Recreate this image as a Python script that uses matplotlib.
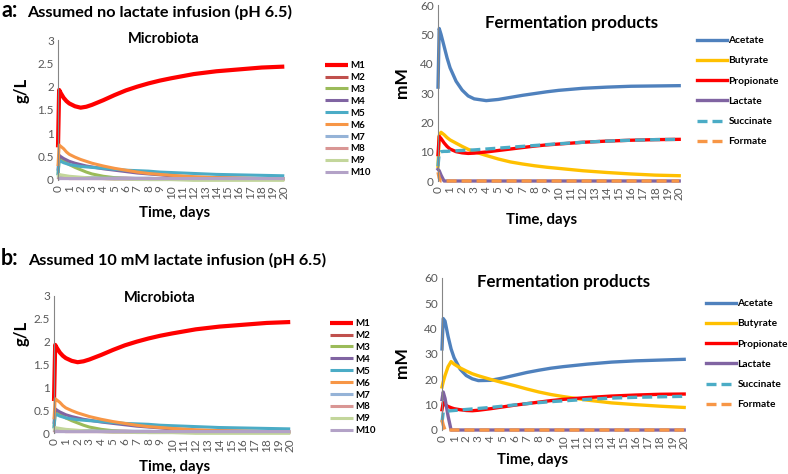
import matplotlib
matplotlib.use("Agg")
import matplotlib.pyplot as plt

plt.rcParams['font.family'] = ['Lato', 'DejaVu Sans']

W, H = 788, 474

# time points (days)
days = [0, 0.1, 0.25, 0.5, 0.75, 1, 1.5, 2, 2.5, 3, 4, 5, 6, 7, 8, 9, 10, 12, 14, 16, 18, 20]
day_ticks = list(range(0, 21))

# microbiota, g/L (panel a and b look the same)
m1 = [0.7, 1.93, 1.86, 1.76, 1.69, 1.64, 1.58, 1.55, 1.57, 1.61, 1.71, 1.82, 1.92, 2.0, 2.07, 2.13, 2.18, 2.27, 2.33, 2.37, 2.41, 2.43]
m2 = [0.02, 0.05, 0.05, 0.05, 0.05, 0.05, 0.05, 0.05, 0.05, 0.04, 0.04, 0.04, 0.04, 0.03, 0.03, 0.03, 0.03, 0.03, 0.03, 0.02, 0.02, 0.02]
m3 = [0.1, 0.48, 0.45, 0.41, 0.37, 0.33, 0.27, 0.22, 0.17, 0.13, 0.08, 0.05, 0.03, 0.02, 0.01, 0.01, 0.01, 0.0, 0.0, 0.0, 0.0, 0.0]
m4 = [0.2, 0.53, 0.5, 0.46, 0.43, 0.4, 0.36, 0.33, 0.3, 0.28, 0.24, 0.21, 0.18, 0.15, 0.13, 0.11, 0.09, 0.06, 0.05, 0.04, 0.03, 0.03]
m5 = [0.1, 0.42, 0.4, 0.37, 0.35, 0.33, 0.31, 0.29, 0.28, 0.27, 0.25, 0.23, 0.21, 0.2, 0.19, 0.17, 0.16, 0.14, 0.12, 0.11, 0.1, 0.09]
m6 = [0.3, 0.75, 0.72, 0.67, 0.6, 0.55, 0.49, 0.44, 0.4, 0.36, 0.3, 0.25, 0.21, 0.17, 0.14, 0.12, 0.1, 0.07, 0.05, 0.04, 0.03, 0.03]
m7 = [0.02, 0.06, 0.06, 0.06, 0.05, 0.05, 0.05, 0.05, 0.05, 0.05, 0.04, 0.04, 0.04, 0.04, 0.04, 0.03, 0.03, 0.03, 0.03, 0.03, 0.03, 0.03]
m8 = [0.01, 0.04, 0.04, 0.04, 0.04, 0.03, 0.03, 0.03, 0.03, 0.03, 0.03, 0.02, 0.02, 0.02, 0.02, 0.02, 0.02, 0.02, 0.02, 0.02, 0.02, 0.02]
m9 = [0.05, 0.12, 0.11, 0.1, 0.09, 0.08, 0.07, 0.06, 0.05, 0.04, 0.03, 0.02, 0.02, 0.01, 0.01, 0.01, 0.01, 0.01, 0.01, 0.01, 0.01, 0.01]
m10 = [0.02, 0.03, 0.03, 0.03, 0.03, 0.03, 0.03, 0.03, 0.03, 0.03, 0.03, 0.03, 0.03, 0.03, 0.03, 0.03, 0.03, 0.03, 0.03, 0.03, 0.03, 0.03]
microbes = ['M1', 'M2', 'M3', 'M4', 'M5', 'M6', 'M7', 'M8', 'M9', 'M10']
microbe_colors = ['#FF0000', '#C0504D', '#9BBB59', '#8064A2', '#4BACC6',
                  '#F79646', '#95B3D7', '#D99694', '#C3D69B', '#B3A2C7']

# fermentation products, mM - a: no lactate infusion
acetate_a = [32, 52, 50, 46, 42, 38.6, 34, 31, 29, 28, 27.4, 27.8, 28.5, 29.2, 29.8, 30.4, 30.9, 31.6, 32.0, 32.3, 32.4, 32.5]
butyrate_a = [5, 15.5, 16.6, 15.8, 14.8, 14.0, 12.9, 11.8, 10.8, 10.0, 8.7, 7.5, 6.5, 5.8, 5.2, 4.7, 4.3, 3.5, 2.9, 2.4, 2.0, 1.8]
propionate_a = [9, 15.2, 14.5, 13.0, 11.8, 10.9, 10.0, 9.6, 9.4, 9.5, 9.9, 10.4, 10.9, 11.4, 11.9, 12.3, 12.6, 13.2, 13.6, 13.9, 14.1, 14.2]
lactate_a = [4, 3.5, 2.0, 0, 0, 0, 0, 0, 0, 0, 0, 0, 0, 0, 0, 0, 0, 0, 0, 0, 0, 0]
succinate_a = [5, 9.5, 10.0, 10.1, 10.1, 10.2, 10.3, 10.4, 10.5, 10.6, 10.9, 11.2, 11.5, 11.8, 12.1, 12.4, 12.7, 13.2, 13.6, 13.9, 14.1, 14.2]
formate_a = [3, 1.0, 0, 0, 0, 0, 0, 0, 0, 0, 0, 0, 0, 0, 0, 0, 0, 0, 0, 0, 0, 0]

# b: 10 mM lactate infusion
acetate_b = [32, 44, 43, 37, 32, 28.5, 24, 21.5, 20.2, 19.5, 19.6, 20.5, 21.6, 22.7, 23.6, 24.4, 25.0, 26.0, 26.8, 27.3, 27.6, 27.9]
butyrate_b = [17, 19, 21.5, 25, 27, 26, 24.5, 23.3, 22.2, 21.4, 20, 18.7, 17.5, 16.2, 15.0, 14.0, 13.2, 11.8, 10.7, 10.0, 9.4, 8.9]
propionate_b = [8, 10.8, 10, 9.3, 8.8, 8.4, 8.0, 7.7, 7.6, 7.8, 8.4, 9.1, 9.8, 10.4, 11.0, 11.6, 12.1, 12.8, 13.4, 13.8, 14.1, 14.2]
lactate_b = [12, 15, 12.5, 5.5, 0, 0, 0, 0, 0, 0, 0, 0, 0, 0, 0, 0, 0, 0, 0, 0, 0, 0]
succinate_b = [3, 7, 7.4, 7.5, 7.6, 7.7, 7.9, 8.1, 8.3, 8.5, 8.9, 9.4, 9.9, 10.4, 10.8, 11.2, 11.5, 12.1, 12.6, 12.9, 13.1, 13.3]
formate_b = [4, 2, 0, 0, 0, 0, 0, 0, 0, 0, 0, 0, 0, 0, 0, 0, 0, 0, 0, 0, 0, 0]
products = ['Acetate', 'Butyrate', 'Propionate', 'Lactate', 'Succinate', 'Formate']
product_colors = ['#4F81BD', '#FFC000', '#FF0000', '#8064A2', '#4BACC6', '#F79646']
product_styles = ['-', '-', '-', '-', (0, (3, 1.5)), (0, (3, 1.5))]

g_ticks = [0, 0.5, 1, 1.5, 2, 2.5, 3]
g_labels = ['0', '0.5', '1', '1.5', '2', '2.5', '3']
mm_ticks = [0, 10, 20, 30, 40, 50, 60]

GREY = '#595959'

fig = plt.figure(figsize=(W / 100, H / 100), dpi=100)


def px(x, y):
    return x / W, 1 - y / H


def make_ax(l, t, r, b):
    ax = fig.add_axes([l / W, 1 - b / H, (r - l) / W, (b - t) / H])
    for s in ['top', 'right', 'bottom']:
        ax.spines[s].set_visible(False)
    ax.spines['left'].set_color('#868686')
    ax.spines['left'].set_linewidth(0.8)
    ax.tick_params(length=0, labelsize=8.5, labelcolor=GREY, pad=3)
    ax.set_xlim(0, 20.15)
    ax.set_xticks(day_ticks)
    ax.set_xticklabels([str(d) for d in day_ticks], rotation=90)
    ax.tick_params(axis='x', pad=4)
    return ax


def microbiota_panel(ax, series, legend_at, title_at, ylab_at, xlab_at):
    for i, ys in enumerate(series):
        ax.plot(days, ys, color=microbe_colors[i], lw=3.0 if i == 0 else 2.2,
                label=microbes[i], clip_on=False, solid_capstyle='butt')
    ax.set_ylim(0, 3)
    ax.set_yticks(g_ticks)
    ax.set_yticklabels(g_labels)
    ax.legend(loc='upper left', bbox_to_anchor=px(*legend_at), bbox_transform=fig.transFigure,
              frameon=False, prop={'size': 7.0, 'weight': 'bold'}, handlelength=2.4,
              handletextpad=0.2, labelspacing=0.3, borderpad=0, borderaxespad=0)
    fig.text(*px(*title_at), 'Microbiota', ha='center', va='center', fontsize=10.5, fontweight='bold')
    fig.text(*px(*ylab_at), 'g/L', ha='center', va='center', rotation=90, fontsize=12, fontweight='bold')
    fig.text(*px(*xlab_at), 'Time, days', ha='center', va='center', fontsize=10.8, fontweight='bold')


def products_panel(ax, series, legend_at, title_at, ylab_at, xlab_at):
    for i, ys in enumerate(series):
        ax.plot(days, ys, color=product_colors[i], lw=2.4, ls=product_styles[i],
                label=products[i], clip_on=False)
    ax.set_ylim(0, 60)
    ax.set_yticks(mm_ticks)
    ax.legend(loc='upper left', bbox_to_anchor=px(*legend_at), bbox_transform=fig.transFigure,
              frameon=False, prop={'size': 7.3, 'weight': 'bold'}, handlelength=3.0,
              handletextpad=0.1, labelspacing=1.1, borderpad=0, borderaxespad=0)
    fig.text(*px(*title_at), 'Fermentation products', ha='center', va='center', fontsize=12.2, fontweight='bold')
    fig.text(*px(*ylab_at), 'mM', ha='center', va='center', rotation=90, fontsize=12.5, fontweight='bold')
    fig.text(*px(*xlab_at), 'Time, days', ha='center', va='center', fontsize=10.8, fontweight='bold')


# headers
fig.text(*px(1, 17), 'a:', fontsize=15.5, fontweight='bold', va='baseline')
fig.text(*px(27, 17), 'Assumed no lactate infusion (pH 6.5)', fontsize=11.7, fontweight='bold', va='baseline')
fig.text(*px(1, 265), 'b:', fontsize=15.5, fontweight='bold', va='baseline')
fig.text(*px(28, 265), 'Assumed 10 mM lactate infusion (pH 6.5)', fontsize=11.7, fontweight='bold', va='baseline')

ax_a1 = make_ax(58, 40, 286, 180)
microbiota_panel(ax_a1, [m1, m2, m3, m4, m5, m6, m7, m8, m9, m10],
                 (325, 61), (164, 39), (22, 90), (175, 213))

ax_a2 = make_ax(438, 5, 681, 181)
products_panel(ax_a2, [acetate_a, butyrate_a, propionate_a, lactate_a, succinate_a, formate_a],
               (697, 36), (572, 23), (402, 83), (542, 220))

ax_b1 = make_ax(54, 296, 292, 433)
microbiota_panel(ax_b1, [m1, m2, m3, m4, m5, m6, m7, m8, m9, m10],
                 (330, 319), (160, 298), (22, 333), (175, 467))

ax_b2 = make_ax(442, 278, 686, 430)
products_panel(ax_b2, [acetate_b, butyrate_b, propionate_b, lactate_b, succinate_b, formate_b],
               (706, 299), (564, 282), (402, 363), (533, 460))

fig.savefig('out.png', dpi=100)
